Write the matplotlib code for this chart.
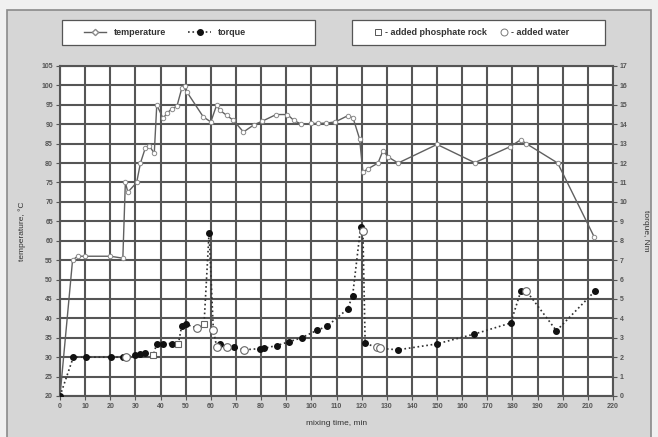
import numpy as np
import matplotlib.pyplot as plt
from matplotlib.lines import Line2D
from matplotlib.patches import Rectangle

plt.rcParams['font.family'] = ['Liberation Sans', 'DejaVu Sans']
plt.rcParams['font.weight'] = 'bold'

# temperature curve (mixing time in min, degrees C)
t_temp = [0, 5, 7, 10, 20, 25, 26, 27, 30.5, 32, 34, 35.5, 37.5, 38.5, 41, 42.5,
          44.5, 46.5, 48.5, 49.7, 50.5, 57, 60, 62.3, 63.6, 66.3, 69, 73, 77, 80.5,
          86, 90.5, 93, 96, 100, 102.5, 106, 109.5, 114.5, 116.6, 119.2, 120.5,
          122.5, 126.5, 128.5, 130.5, 134.5, 150, 165, 179, 183.3, 185.5, 198, 212.5]
temp = [20, 55, 56, 56, 56, 55.5, 75, 72.5, 75, 80, 84, 84.5, 82.5, 95, 91.5, 92.8,
        94, 94.6, 99.4, 99.8, 98.3, 91.9, 90.6, 94.9, 93.6, 92.3, 91, 88, 89.8, 90.8,
        92.5, 92.5, 91, 90, 90.2, 90.2, 90.3, 90.6, 92.2, 91.6, 86.2, 77.7,
        78.5, 80, 83.2, 81.6, 80, 84.8, 80.1, 84.2, 86, 85, 80, 61]

# torque curve (Nm); kind: b = measured, s = phosphate rock added, c = water added
t_torque = [0, 5.3, 10.3, 20.3, 25.2, 26.2, 30, 32, 34, 37.1, 38.5, 41, 44.4, 47.1,
            48.4, 50, 54.5, 57.3, 59.3, 61, 62.3, 63.6, 66.3, 69.3, 73.3, 79.5, 81,
            86.2, 91.3, 96.1, 102.2, 106.3, 114.4, 116.4, 119.6, 120.5, 121.4, 126,
            127.5, 134.5, 149.8, 164.8, 179.3, 183.3, 185.5, 197.5, 212.7]
torque = [0, 2.0, 2.0, 2.0, 2.0, 2.0, 2.1, 2.15, 2.2, 2.1, 2.7, 2.7, 2.7, 2.7,
          3.6, 3.7, 3.5, 3.7, 8.4, 3.4, 2.55, 2.68, 2.55, 2.5, 2.38, 2.44, 2.45,
          2.6, 2.8, 3.0, 3.38, 3.6, 4.48, 5.16, 8.7, 8.5, 2.72, 2.5,
          2.45, 2.38, 2.68, 3.19, 3.76, 5.39, 5.42, 3.36, 5.39]
kind = ['b', 'b', 'b', 'b', 'b', 'c', 'b', 'b', 'b', 's', 'b', 'b', 'b', 's',
        'b', 'b', 'c', 's', 'b', 'c', 'c', 'b', 'c', 'b', 'c', 'b', 'b',
        'b', 'b', 'b', 'b', 'b', 'b', 'b', 'b', 'c', 'b', 'c',
        'c', 'b', 'b', 'b', 'b', 'b', 'c', 'b', 'b']

grid_c = '#555555'
txt_c = '#555555'
bg = '#d6d6d6'

fig = plt.figure(figsize=(6.58, 4.37), dpi=100, facecolor='#f0f0f0')
# grey panel with border
fig.patches.append(Rectangle((7/658, -0.01), 644/658, 1-10/437 + 0.01, transform=fig.transFigure,
                             facecolor=bg, edgecolor='#8a8a8a', lw=1.2, zorder=-2))
# legend boxes
for x0 in (62, 352):
    fig.patches.append(Rectangle((x0/658, 1-45/437), 253/658, 25/437, transform=fig.transFigure,
                                 facecolor='white', edgecolor='#555555', lw=0.9, zorder=-1))

ax = fig.add_axes([60/658, 1-396/437, 553/658, 330/437])
ax.set_xlim(0, 220)
ax.set_ylim(20, 105)
ax.set_xticks(np.arange(0, 221, 10))
ax.set_yticks(np.arange(20, 106, 5))
ax.grid(True, color=grid_c, lw=1.5)
ax.set_axisbelow(True)
for s in ax.spines.values():
    s.set_color(grid_c)
    s.set_linewidth(1.5)
ax.tick_params(labelsize=5, colors=txt_c, length=3, width=0.8, pad=2)

ax2 = ax.twinx()
ax2.set_ylim(0, 17)
ax2.set_yticks(np.arange(0, 18, 1))
ax2.tick_params(labelsize=5, colors=txt_c, length=3, width=0.8, pad=2)
for s in ax2.spines.values():
    s.set_visible(False)

# temperature
ax.plot(t_temp, temp, '-', color='#606060', lw=1.0, marker='o', ms=3.2,
        mfc='white', mec='#8a8a8a', mew=0.7, zorder=4)

# torque
ax2.plot(t_torque, torque, ':', color='#303030', lw=1.2, zorder=3)
tk = np.array(t_torque)
tq = np.array(torque)
kd = np.array(kind)
ax2.plot(tk[kd == 'b'], tq[kd == 'b'], 'o', color='#111111', ms=4, zorder=5)
ax2.plot(tk[kd == 'c'], tq[kd == 'c'], 'o', mfc='white', mec='#666666', mew=0.8, ms=5.5, zorder=5)
ax2.plot(tk[kd == 's'], tq[kd == 's'], 's', mfc='white', mec='#666666', mew=0.8, ms=4.5, zorder=5)

ax.set_xlabel('mixing time, min', fontsize=6, color='#333333', labelpad=7)
ax.set_ylabel('temperature, °C', fontsize=6, color='#333333', labelpad=11)
ax2.set_ylabel('torque, Nm', fontsize=6, color='#333333', rotation=270, labelpad=15)

h1 = [Line2D([], [], color='#606060', lw=1.0, marker='D', ms=3.2, mfc='white', mec='#8a8a8a'),
      Line2D([], [], color='#303030', ls=':', lw=1.2, marker='o', ms=4, mfc='#111111', mec='#111111')]
leg1 = fig.legend(h1, ['temperature', 'torque'], loc='center', ncol=2,
                  bbox_to_anchor=(165/658, 1-32.5/437), fontsize=6.5, frameon=False,
                  handlelength=2.5, columnspacing=2.5)

h2 = [Line2D([], [], ls='none', marker='s', ms=4.5, mfc='white', mec='#555555', mew=0.7),
      Line2D([], [], ls='none', marker='o', ms=5, mfc='white', mec='#777777', mew=0.7)]
leg2 = fig.legend(h2, ['- added phosphate rock', '- added water'], loc='center', ncol=2,
                  bbox_to_anchor=(472/658, 1-32.5/437), fontsize=6.5, frameon=False,
                  handlelength=0.8, handletextpad=0.4, columnspacing=1.5)
for leg in (leg1, leg2):
    leg.set_zorder(3)
    for tx in leg.get_texts():
        tx.set_color('#333333')

fig.savefig('out.png', dpi=100, facecolor=fig.get_facecolor())
